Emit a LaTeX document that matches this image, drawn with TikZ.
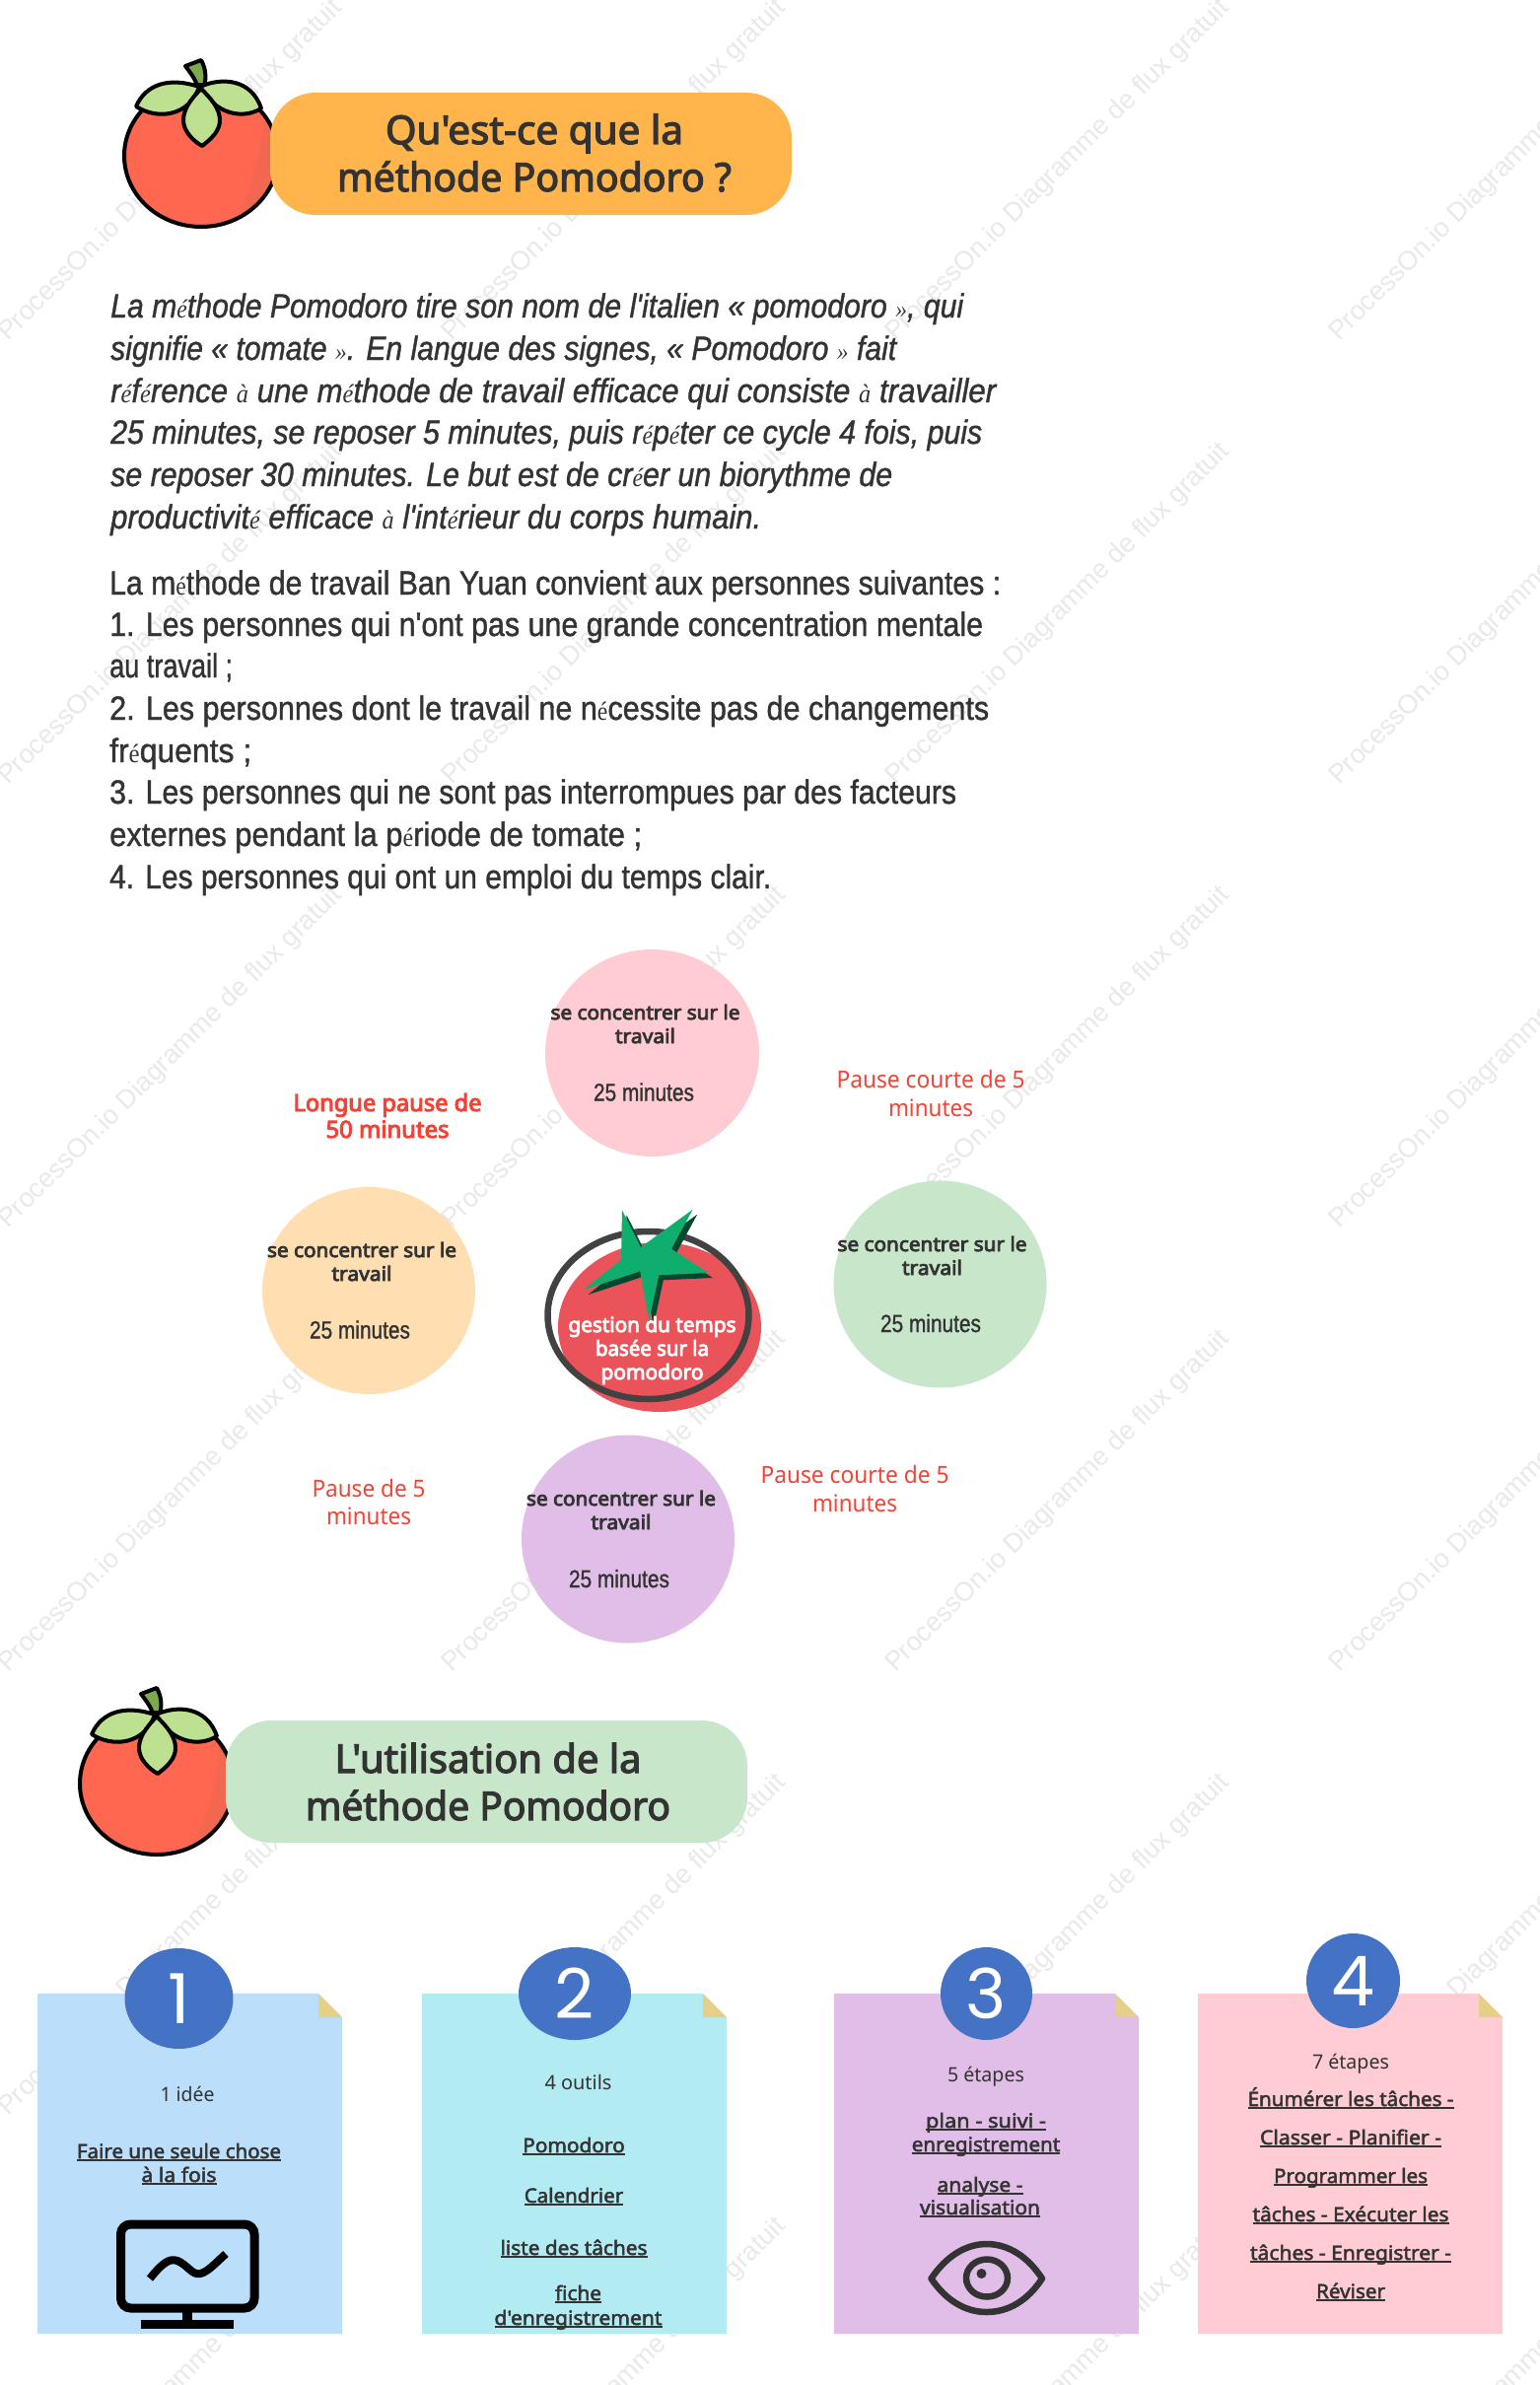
\documentclass[tikz,border=0pt]{standalone}
\usepackage{graphicx}
\usepackage{fontspec}
\usetikzlibrary{shapes.geometric}
\newfontfamily\wmf{Liberation Sans}
\newfontfamily\bodyf[FakeBold=1.2]{Liberation Sans}
\newfontfamily\fbf{Liberation Serif}
\newfontfamily\notof{Noto Sans}
\newfontfamily\semif[FakeBold=2.4]{Noto Sans}
\newfontfamily\titlef[FakeBold=3]{Noto Sans}
\newfontfamily\boldf[FakeBold=4]{Noto Sans}
\newfontfamily\digf{Poppins}
\definecolor{ink}{HTML}{333333}
\definecolor{wm}{HTML}{E9E9E9}
\definecolor{redtxt}{HTML}{F44336}
\definecolor{tomred}{HTML}{FF6750}
\definecolor{tomdark}{HTML}{F2674F}
\definecolor{leaf}{HTML}{BDE190}
\definecolor{stem}{HTML}{7EA84E}
\definecolor{pillorange}{HTML}{FFB54C}
\definecolor{pillgreen}{HTML}{C8E6C9}
\definecolor{cpink}{HTML}{FFCCD3}
\definecolor{corange}{HTML}{FFDFB2}
\definecolor{cgreen}{HTML}{C8E6C9}
\definecolor{cpurple}{HTML}{E1BEE7}
\definecolor{cblue}{HTML}{BBDEFB}
\definecolor{ccyan}{HTML}{B2EBF2}
\definecolor{fold}{HTML}{E5D08A}
\definecolor{badge}{HTML}{4472C4}
\definecolor{cenred}{HTML}{EB535A}
\definecolor{cenring}{HTML}{424242}
\definecolor{stargreen}{HTML}{10AE6E}
\definecolor{stardark}{HTML}{00472F}
\newcounter{tlc}
\newsavebox\ulbox
\newcommand{\ulx}[1]{\sbox\ulbox{#1}\rlap{\usebox\ulbox}\rule[-2.8pt]{\wd\ulbox}{1.5pt}}
\newcommand{\fb}[1]{{\fbf\itshape\scalebox{0.78}{#1}}}
\newcommand{\fbr}[1]{{\fbf\scalebox{0.78}{#1}}}
\newcommand{\tline}[5][]{\stepcounter{tlc}\node[tl,#1] (t\arabic{tlc}) at (#2,#3) {\resizebox{#4pt}{\height}{#5}};}
\tikzset{
  tl/.style={inner sep=0pt,anchor=base,text=ink},
  para/.style={anchor=base west,font=\fontsize{34}{34}\selectfont\bodyf,yshift=-10pt},
  paraital/.style={para,font=\fontsize{34}{34}\selectfont\bodyf\itshape},
  title/.style={font=\fontsize{40}{40}\selectfont\titlef,yshift=-14pt},
  blob/.style={ellipse,inner sep=0pt,draw=none},
  bold/.style={font=\fontsize{20}{20}\selectfont\boldf,yshift=-6pt},
  mins/.style={font=\fontsize{25}{25}\selectfont\bodyf,yshift=-8pt},
  redl/.style={font=\fontsize{24}{24}\selectfont\notof,text=redtxt,yshift=-8pt},
  redb/.style={font=\fontsize{24}{24}\selectfont\boldf,text=redtxt,yshift=-8pt},
  cenl/.style={font=\fontsize{21}{21}\selectfont\boldf,text=white,yshift=-6pt},
  reg/.style={font=\fontsize{20}{20}\selectfont\notof,yshift=-6pt},
  under/.style={font=\fontsize{20}{20}\selectfont\semif,yshift=-6pt},
  digit/.style={font=\fontsize{70}{70}\selectfont\digf,text=white,inner sep=0pt,anchor=center},
  card/.style={draw=none},
  pill/.style={rounded corners=46pt,draw=none},
  outl/.style={draw=black,line width=4pt,line join=round},
  tomato/.pic={
    \path[fill=stem,outl] (188,67) -- (204,61) .. controls (208,68) and (210,78) .. (207,87) -- (200,87) .. controls (198,80) and (194,75) .. (188,67) -- cycle;
    \begin{scope}
      \clip (204,158) ellipse [x radius=78, y radius=72];
      \fill[tomred] (120,80) rectangle (290,240);
      \fill[tomdark] (268,100) .. controls (268,160) and (250,210) .. (232,232) -- (290,240) -- (290,100) -- cycle;
    \end{scope}
    \draw[black,line width=4pt] (204,158) ellipse [x radius=78, y radius=72];
    \path[fill=leaf,outl] (202,88) .. controls (172,78) and (148,85) .. (138,108) .. controls (160,122) and (192,118) .. (202,88) -- cycle;
    \path[fill=leaf,outl] (203,88) .. controls (225,78) and (255,80) .. (265,110) .. controls (245,122) and (218,115) .. (203,88) -- cycle;
    \path[fill=leaf,outl] (204,90) .. controls (192,102) and (186,112) .. (186,122) .. controls (186,133) and (196,143) .. (205,148) .. controls (214,141) and (223,133) .. (223,122) .. controls (223,110) and (214,100) .. (204,90) -- cycle;
  }
}
\begin{document}
\begin{tikzpicture}[x=1pt,y=-1pt]
\useasboundingbox (0,0) rectangle (1561,2419);
\fill[white] (0,0) rectangle (1561,2419);
% watermark
\begin{scope}
\clip (0,0) rectangle (1561,2419);
\foreach \i in {0,...,3}{
  \foreach \j in {0,...,5}{
    \node[anchor=west,rotate=44.8,text=wm,inner sep=0pt,font=\fontsize{27}{27}\selectfont\wmf] (wm\i\j) at ({3+450*\i},{342+450*\j}) {ProcessOn.io Diagramme de flux gratuit};
  }
}
\end{scope}
% tomatoes and title pills
\pic at (0,0) {tomato};
\pic at (-45,1651) {tomato};
\path[fill=pillorange,pill] (274,94) rectangle (803,218);
\path[fill=pillgreen,pill] (229,1745) rectangle (758,1869);
\tline[title]{542}{132}{302}{Qu'est-ce que la}
\tline[title]{542}{180}{400}{méthode Pomodoro ?}
\tline[title]{495}{1784}{311}{L'utilisation de la}
\tline[title]{495}{1832}{370}{méthode Pomodoro}
% paragraph 1
\tline[paraital]{112}{312}{865}{La m\fb{é}thode Pomodoro tire son nom de l'italien « pomodoro \fb{»}, qui}
\tline[paraital]{112}{355}{797}{signifie « tomate \fb{»}. En langue des signes, « Pomodoro \fb{»} fait}
\tline[paraital]{112}{398}{898}{r\fb{é}f\fb{é}rence \fb{à} une m\fb{é}thode de travail efficace qui consiste \fb{à} travailler}
\tline[paraital]{112}{440}{884}{25 minutes, se reposer 5 minutes, puis r\fb{é}p\fb{é}ter ce cycle 4 fois, puis}
\tline[paraital]{112}{483}{793}{se reposer 30 minutes. Le but est de cr\fb{é}er un biorythme de}
\tline[paraital]{112}{526}{660}{productivit\fb{é} efficace \fb{à} l'int\fb{é}rieur du corps humain.}
% paragraph 2
\tline[para]{111}{593}{904}{La m\fbr{é}thode de travail Ban Yuan convient aux personnes suivantes :}
\tline[para]{111}{635}{886}{1. Les personnes qui n'ont pas une grande concentration mentale}
\tline[para]{111}{677}{125}{au travail ;}
\tline[para]{111}{720}{892}{2. Les personnes dont le travail ne n\fbr{é}cessite pas de changements}
\tline[para]{111}{763}{144}{fr\fbr{é}quents ;}
\tline[para]{111}{805}{859}{3. Les personnes qui ne sont pas interrompues par des facteurs}
\tline[para]{111}{848}{540}{externes pendant la p\fbr{é}riode de tomate ;}
\tline[para]{111}{891}{671}{4. Les personnes qui ont un emploi du temps clair.}
% blobs
\node[blob,fill=cpink,minimum width=217pt,minimum height=210pt] (pinkc) at (661.5,1068) {};
\node[blob,fill=corange,minimum width=216pt,minimum height=210pt] (orangec) at (374,1309) {};
\node[blob,fill=cgreen,minimum width=216pt,minimum height=210pt] (greenc) at (953.5,1302.5) {};
\node[blob,fill=cpurple,minimum width=216pt,minimum height=211pt] (purplec) at (637,1561) {};
\tline[bold]{654.5}{1028}{192}{se concentrer sur le}
\tline[bold]{654.5}{1052}{61}{travail}
\tline[mins]{653}{1108.5}{102}{25 minutes}
\tline[bold]{367}{1269}{192}{se concentrer sur le}
\tline[bold]{367}{1293}{61}{travail}
\tline[mins]{365}{1349.5}{102}{25 minutes}
\tline[bold]{945.5}{1263}{192}{se concentrer sur le}
\tline[bold]{945.5}{1287}{61}{travail}
\tline[mins]{944}{1343}{102}{25 minutes}
\tline[bold]{630}{1521}{192}{se concentrer sur le}
\tline[bold]{630}{1545}{61}{travail}
\tline[mins]{628}{1602}{102}{25 minutes}
% red labels
\tline[redb]{393}{1119}{191}{Longue pause de}
\tline[redb]{393}{1146}{125}{50 minutes}
\tline[redl]{944}{1095.5}{191}{Pause courte de 5}
\tline[redl]{944}{1124}{86}{minutes}
\tline[redl]{867}{1496.5}{191}{Pause courte de 5}
\tline[redl]{867}{1525}{86}{minutes}
\tline[redl]{374}{1510}{115}{Pause de 5}
\tline[redl]{374}{1538.5}{86}{minutes}
% centre tomato
\node[blob,fill=cenred,minimum width=206pt,minimum height=172pt] (cenbody) at (669,1346) {};
\node[blob,draw=cenring,line width=6.5pt,minimum width=204pt,minimum height=170pt] (cenrim) at (657.5,1334) {};
\fill[stardark,shift={(4.5,5)}] (631,1227.3) -- (650,1265) -- (702.7,1226.7) -- (681,1266.7) -- (718.3,1291) -- (668.3,1293.3) -- (658.3,1340) -- (649.3,1289.3) -- (591.7,1308.3) -- (630,1278) -- cycle;
\fill[stargreen] (631,1227.3) -- (650,1265) -- (702.7,1226.7) -- (681,1266.7) -- (718.3,1291) -- (668.3,1293.3) -- (658.3,1340) -- (649.3,1289.3) -- (591.7,1308.3) -- (630,1278) -- cycle;
\tline[cenl]{661.5}{1345}{170}{gestion du temps}
\tline[cenl]{661.5}{1369}{115}{basée sur la}
\tline[cenl]{661.5}{1393}{104}{pomodoro}
% cards
\path[fill=cblue,card] (38,2022) -- (323,2022) -- (347,2046) -- (347,2367) -- (38,2367) -- cycle;
\fill[fold] (323,2022) -- (347,2046) -- (323,2046) -- cycle;
\path[fill=ccyan,card] (428,2022) -- (713,2022) -- (737,2046) -- (737,2367) -- (428,2367) -- cycle;
\fill[fold] (713,2022) -- (737,2046) -- (713,2046) -- cycle;
\path[fill=cpurple,card] (846,2022) -- (1131,2022) -- (1155,2046) -- (1155,2367) -- (846,2367) -- cycle;
\fill[fold] (1131,2022) -- (1155,2046) -- (1131,2046) -- cycle;
\path[fill=cpink,card] (1215,2022) -- (1500,2022) -- (1524,2046) -- (1524,2367) -- (1215,2367) -- cycle;
\fill[fold] (1500,2022) -- (1524,2046) -- (1500,2046) -- cycle;
% badges
\node[blob,fill=badge,minimum width=110pt,minimum height=102pt] (b1) at (181.5,2027) {};
\node[blob,fill=badge,minimum width=114pt,minimum height=94pt] (b2) at (583,2022) {};
\node[blob,fill=badge,minimum width=93pt,minimum height=94pt] (b3) at (1000.5,2022) {};
\node[blob,fill=badge,minimum width=95pt,minimum height=96pt] (b4) at (1372.5,2009) {};
\node[digit] (d1) at (b1) {1};
\node[digit] (d2) at (b2) {2};
\node[digit] (d3) at (b3) {3};
\node[digit] (d4) at (b4) {4};
% card 1
\tline[reg]{190}{2125}{55}{1 idée}
\tline[under]{181.5}{2183}{207}{\ulx{Faire une seule chose}}
\tline[under]{181.5}{2207}{76}{\ulx{à la fois}}
\draw[black,line width=9pt,rounded corners=10pt] (122.5,2256) rectangle (258,2341);
\fill[black] (185,2341) rectangle (195,2355);
\fill[black] (143,2353) rectangle (237,2362);
\draw[black,line width=8pt] (152,2311) .. controls (165,2295) and (172,2290) .. (180,2293) .. controls (190,2297) and (195,2308) .. (203,2306) .. controls (210,2305) and (220,2294) .. (229,2286);
% card 2
\tline[reg]{586.5}{2113}{68}{4 outils}
\tline[under]{582}{2177}{103.5}{\ulx{Pomodoro}}
\tline[under]{582}{2228}{100.5}{\ulx{Calendrier}}
\tline[under]{582}{2281}{149}{\ulx{liste des tâches}}
\tline[under]{586.5}{2327}{47}{\ulx{fiche}}
\tline[under]{586.5}{2352}{170}{\ulx{d'enregistrement}}
% card 3
\tline[reg]{1000}{2105}{78}{5 étapes}
\tline[under]{1000}{2152}{122}{\ulx{plan - suivi -}}
\tline[under]{1000}{2176}{150.5}{\ulx{enregistrement}}
\tline[under]{994}{2217}{87}{\ulx{analyse -}}
\tline[under]{994}{2240}{122}{\ulx{visualisation}}
\draw[ink,line width=6.5pt,line join=round] (944.5,2311) .. controls (960,2288) and (980,2276) .. (1000.7,2276) .. controls (1022,2276) and (1042,2288) .. (1057,2311) .. controls (1042,2334) and (1022,2345) .. (1000.7,2345) .. controls (980,2345) and (960,2334) .. (944.5,2311) -- cycle;
\draw[ink,line width=6.5pt] (1001,2310.5) ellipse [x radius=21, y radius=19];
\fill[ink] (995.5,2306) ellipse [x radius=5, y radius=5];
% card 4
\tline[reg]{1370}{2092}{78}{7 étapes}
\tline[under]{1370}{2130}{209}{\ulx{Énumérer les tâches -}}
\tline[under]{1370}{2169}{184}{\ulx{Classer - Planifier -}}
\tline[under]{1370}{2208}{156}{\ulx{Programmer les}}
\tline[under]{1370}{2247}{199}{\ulx{tâches - Exécuter les}}
\tline[under]{1370}{2286}{204}{\ulx{tâches - Enregistrer -}}
\tline[under]{1370}{2325}{70}{\ulx{Réviser}}
\end{tikzpicture}
\end{document}
